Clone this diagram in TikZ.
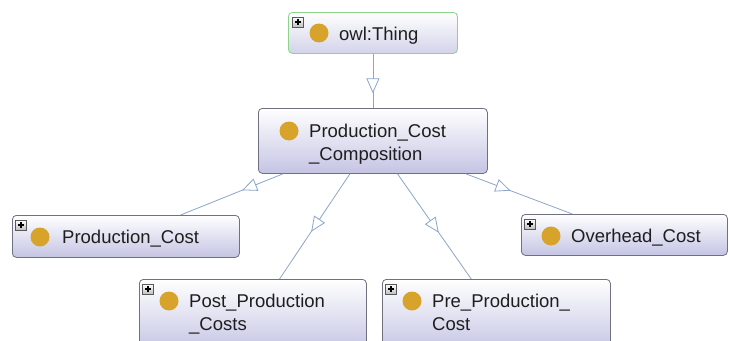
\documentclass[tikz,border=0pt]{standalone}
\usepackage{fontspec}
\setmainfont{Liberation Sans}
\usetikzlibrary{calc,arrows.meta,decorations.markings}
\definecolor{edgec}{RGB}{140,165,200}
\definecolor{boxborder}{RGB}{112,112,128}
\definecolor{boxbot}{RGB}{196,196,228}
\definecolor{goldc}{RGB}{216,163,42}
\definecolor{thinggreen}{RGB}{140,212,140}
\definecolor{txtc}{RGB}{30,30,30}
\tikzset{
  clsbox/.style={draw=boxborder, line width=0.8pt, rounded corners=4pt,
    top color=white, bottom color=boxbot, anchor=north west, inner sep=0pt,
    rectangle},
  thingbox/.style={clsbox, draw=thinggreen, bottom color=boxbot!75!white},
  dot/.style={circle, fill=goldc, minimum size=19pt, inner sep=0pt},
  plusicon/.style={rectangle, draw=black!65, line width=0.6pt,
    top color=white, bottom color=black!25, minimum width=11pt,
    minimum height=10pt, inner sep=0pt,
    path picture={\draw[black, line width=1.1pt]
      ($(path picture bounding box.center)+(-3pt,0pt)$) -- ++(6pt,0pt)
      ($(path picture bounding box.center)+(0pt,-3pt)$) -- ++(0pt,6pt);}},
  lbl/.style={anchor=base west, inner sep=0pt, text=txtc,
    font=\fontsize{18.5}{23}\selectfont},
  edge/.style={draw=edgec, line width=0.8pt,
    postaction={decorate, decoration={markings, mark=at position #1 with
      {\arrow[edgec, line width=0.8pt]{Triangle[length=15pt, width=13pt, fill=white]}}}}}
}
\begin{document}
\begin{tikzpicture}[x=1pt, y=-1pt]
\clip (0,0) rectangle (730,340);
\fill[white] (0,0) rectangle (730,340);

% boxes
\node[thingbox, minimum width=169pt, minimum height=41pt] (owl) at (288,12) {};
\node[clsbox, minimum width=229pt, minimum height=65pt] (pcc) at (258,108) {};
\node[clsbox, minimum width=227pt, minimum height=42pt] (pc) at (12,215) {};
\node[clsbox, minimum width=227pt, minimum height=72pt] (post) at (139,279) {};
\node[clsbox, minimum width=228pt, minimum height=72pt] (pre) at (382,279) {};
\node[clsbox, minimum width=206pt, minimum height=41pt] (over) at (521,214) {};

% plus icons
\node[plusicon] (owlplus) at ($(owl.north west)+(10,10)$) {};
\node[plusicon] (pcplus) at ($(pc.north west)+(9,10)$) {};
\node[plusicon] (postplus) at ($(post.north west)+(9,10)$) {};
\node[plusicon] (preplus) at ($(pre.north west)+(9,10)$) {};
\node[plusicon] (overplus) at ($(over.north west)+(9,10)$) {};

% dots
\node[dot] (owldot) at ($(owl.north west)+(31,21)$) {};
\node[dot] (pccdot) at ($(pcc.north west)+(31,23)$) {};
\node[dot] (pcdot) at ($(pc.north west)+(28,22)$) {};
\node[dot] (postdot) at ($(post.north west)+(30,22)$) {};
\node[dot] (predot) at ($(pre.north west)+(30,22)$) {};
\node[dot] (overdot) at ($(over.north west)+(30,22)$) {};

% labels
\node[lbl] (owltxt) at ($(owl.north west)+(51,28)$) {owl:Thing};
\node[lbl] (pcctxt) at ($(pcc.north west)+(51,29)$)
  {\begin{tabular}[t]{@{}l@{}}Production\_Cost\\\_Composition\end{tabular}};
\node[lbl] (pctxt) at ($(pc.north west)+(50,28)$) {Production\_Cost};
\node[lbl] (posttxt) at ($(post.north west)+(50,28)$)
  {\begin{tabular}[t]{@{}l@{}}Post\_Production\\\_Costs\end{tabular}};
\node[lbl] (pretxt) at ($(pre.north west)+(50,28)$)
  {\begin{tabular}[t]{@{}l@{}}Pre\_Production\_\\Cost\end{tabular}};
\node[lbl] (overtxt) at ($(over.north west)+(50,28)$) {Overhead\_Cost};

% edges
\draw[edge=0.73] (owl.south) -- (pcc.north);
\draw[edge=0.40] ($(pcc.south west)!0.109!(pcc.south east)$) -- ($(pc.north west)!0.74!(pc.north east)$);
\draw[edge=0.55] ($(pcc.south west)!0.40!(pcc.south east)$) -- ($(post.north west)!0.617!(post.north east)$);
\draw[edge=0.56] ($(pcc.south west)!0.607!(pcc.south east)$) -- ($(pre.north west)!0.39!(pre.north east)$);
\draw[edge=0.42] ($(pcc.south west)!0.904!(pcc.south east)$) -- ($(over.north west)!0.248!(over.north east)$);
\end{tikzpicture}
\end{document}
